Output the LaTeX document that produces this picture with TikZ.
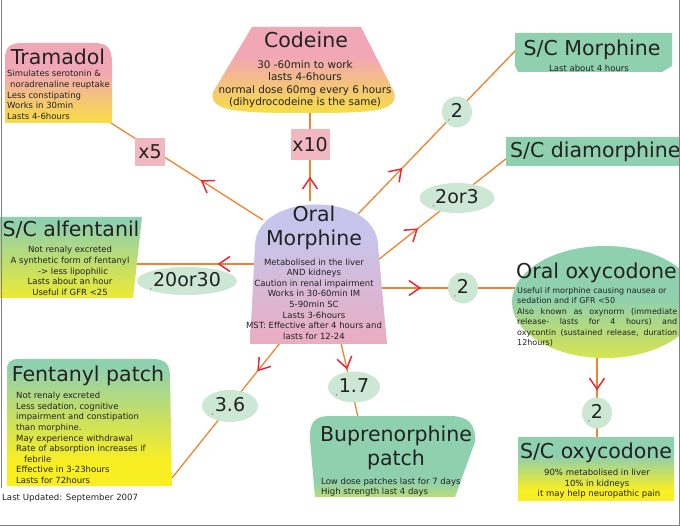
\documentclass[tikz,border=0pt]{standalone}
\usepackage{fontspec}
\setmainfont{DejaVu Sans}
\usepackage{tikz}
\usetikzlibrary{arrows.meta,shapes.geometric,decorations.markings}
\definecolor{ink}{HTML}{222222}
\definecolor{pinkc}{HTML}{F2A7B6}
\definecolor{yellowc}{HTML}{F9EE22}
\definecolor{greenc}{HTML}{8FD0AE}
\definecolor{purplec}{HTML}{C7C5EC}
\definecolor{paleg}{HTML}{CCE8D5}
\definecolor{boxpink}{HTML}{F2B8C1}
\definecolor{linkc}{HTML}{EE8330}
\definecolor{arrowc}{HTML}{E5283C}
\definecolor{framec}{HTML}{808080}
% vertical shadings, bottom (0bp) to top (100bp)
\pgfdeclareverticalshading{pinkyellow}{100bp}{color(0bp)=(yellowc); color(15bp)=(yellowc); color(58bp)=(pinkc); color(100bp)=(pinkc)}
\pgfdeclareverticalshading{morphshade}{100bp}{color(0bp)=(pinkc); color(17bp)=(pinkc); color(61bp)=(purplec); color(100bp)=(purplec)}
\pgfdeclareverticalshading{alfshade}{100bp}{color(0bp)=(yellowc); color(18bp)=(yellowc); color(72bp)=(greenc); color(100bp)=(greenc)}
\pgfdeclareverticalshading{fenshade}{100bp}{color(0bp)=(yellowc); color(35bp)=(yellowc); color(72bp)=(greenc); color(100bp)=(greenc)}
\pgfdeclareverticalshading{oxyshade}{100bp}{color(0bp)=(yellowc); color(12bp)=(yellowc); color(52bp)=(greenc); color(100bp)=(greenc)}
\pgfdeclareverticalshading{bupshade}{100bp}{color(0bp)=(yellowc); color(9bp)=(yellowc); color(35bp)=(greenc); color(100bp)=(greenc)}
\pgfdeclareverticalshading{scoshade}{100bp}{color(0bp)=(yellowc); color(33bp)=(yellowc); color(60bp)=(greenc); color(100bp)=(greenc)}
\pgfdeclareverticalshading{scmshade}{100bp}{color(0bp)=(yellowc); color(4bp)=(yellowc); color(22bp)=(greenc); color(100bp)=(greenc)}
\newcommand{\numtick}{\makebox[0pt][r]{\raisebox{-3pt}{\fontsize{6}{6}\selectfont ,}\hspace{1pt}}}
\tikzset{
  drugname/.style={font=\fontsize{20.5}{24.5}\selectfont, text=ink, inner sep=0pt, align=center},
  infotext/.style={font=\fontsize{8.5}{10.6}\selectfont, text=ink, inner sep=0pt},
  num/.style={ellipse, fill=paleg, inner sep=0pt, font=\fontsize{19}{19}\selectfont, text=ink},
  factor/.style={rectangle, fill=boxpink, inner sep=0pt, font=\fontsize{19}{19}\selectfont, text=ink},
  link/.style={draw=linkc, line width=1.3pt, postaction={decorate},
    decoration={markings, mark=at position #1 with
      {\arrow{Straight Barb[color=arrowc, length=11pt, width=15pt, line width=1.5pt]}}}},
}

\begin{document}
\begin{tikzpicture}[x=1pt,y=-1pt]
  \useasboundingbox (0,0) rectangle (680,526);

  % connector ends
  \coordinate (mor-tl) at (263,220);
  \coordinate (mor-top) at (310,201);
  \coordinate (mor-tr) at (358,214);
  \coordinate (mor-r1) at (378,260);
  \coordinate (mor-r2) at (381,288);
  \coordinate (mor-l) at (256,264);
  \coordinate (mor-bl) at (280,343);
  \coordinate (mor-b) at (341,343);
  \coordinate (tram-in) at (111,123);
  \coordinate (cod-in) at (310,111);
  \coordinate (scm-in) at (516,50);
  \coordinate (dia-in) at (507,158);
  \coordinate (oxy-in) at (515,288);
  \coordinate (oxy-out) at (597,356);
  \coordinate (alf-in) at (136,264);
  \coordinate (fen-in) at (172,478);
  \coordinate (bup-in) at (358,417);
  \coordinate (sco-in) at (597,438);

  \draw[link=0.41] (mor-tl) -- (tram-in);
  \draw[link=0.27] (mor-top) -- (cod-in);
  \draw[link=0.28] (mor-tr) -- (scm-in);
  \draw[link=0.31] (mor-r1) -- (dia-in);
  \draw[link=0.3] (mor-r2) -- (oxy-in);
  \draw[link=0.32] (mor-l) -- (alf-in);
  \draw[link=0.21] (mor-bl) -- (fen-in);
  \draw[link=0.36] (mor-b) -- (bup-in);
  \draw[link=0.42] (oxy-out) -- (sco-in);

  % shapes
  \shade[shading=pinkyellow] (5,123) -- (5,60) .. controls (5,46) and (10,43) .. (24,43)
    -- (93,43) .. controls (108,43) and (112,48) .. (112,64) -- (112,123) -- cycle;
  \shade[shading=pinkyellow] (252,27) -- (361,27) -- (394,92) .. controls (400,112) and (370,113) .. (306,113)
    .. controls (240,113) and (208,112) .. (213,92) -- cycle;
  \shade[shading=scmshade] (515,33) -- (672,33) -- (672,66) -- (662,72) -- (518,72) -- (515,66) -- cycle;
  \fill[greenc] (506,137) rectangle (690,166);
  \shade[shading=alfshade] (-2,217) -- (142,217) -- (133,298) -- (-2,298) -- cycle;
  \shade[shading=morphshade] (250,344) -- (255,245) .. controls (257,191) and (376,191) .. (378,245)
    -- (387,344) -- cycle;
  \shade[shading=oxyshade] (605,302) ellipse[x radius=93, y radius=56];
  \shade[shading=fenshade] (7,486) -- (7,371) .. controls (7,362) and (10,359) .. (19,359) -- (152,359)
    .. controls (166,359) and (170,364) .. (170,378) -- (172,486) -- cycle;
  \shade[shading=bupshade] (315,497) -- (310,440) .. controls (309,422) and (315,416) .. (330,416) -- (450,416)
    .. controls (468,416) and (476,424) .. (475,442) -- (455,497) -- cycle;
  \shade[shading=scoshade] (518,437) rectangle (674,500);

  % texts
  \node[drugname] (tramadol) at (58,57) {Tramadol};
  \node[infotext, anchor=west, align=left] (tramadol-info) at (7,95)
    {Simulates serotonin \&\\\hspace*{3pt}noradrenaline reuptake\\Less constipating\\Works in 30min\\Lasts 4-6hours};
  \node[drugname] (codeine) at (306,40) {Codeine};
  \node[infotext, font=\fontsize{10.4}{12.4}\selectfont, align=center] (codeine-info) at (305,84)
    {30 -60min to work\\lasts 4-6hours\\normal dose 60mg every 6 hours\\(dihydrocodeine is the same)};
  \node[drugname] (scmorphine) at (592,50) {S/C Morphine};
  \node[infotext] (scmorphine-info) at (589,68) {Last about 4 hours};
  \node[drugname, anchor=west] (diamorphine) at (510,152) {S/C diamorphine};
  \node[drugname] (alfentanil) at (71,230) {S/C alfentanil};
  \node[infotext, align=center] (alfentanil-info) at (70,271)
    {Not renaly excreted\\A synthetic form of fentanyl\\\hspace*{6pt}-> less lipophilic\\Lasts about an hour\\Useful if GFR <25};
  \node[drugname] (morphine) at (314,228) {Oral\\Morphine};
  \node[infotext, align=center] (morphine-info) at (314,299)
    {Metabolised in the liver\\AND kidneys\\Caution in renal impairment\\Works in 30-60min IM\\5-90min SC\\Lasts 3-6hours\\MST: Effective after 4 hours and\\lasts for 12-24};
  \node[drugname, anchor=west] (oxycodone) at (516,273) {Oral oxycodone};
  \node[infotext, font=\fontsize{8}{10.4}\selectfont, anchor=west, text width=160pt, align=justify] (oxycodone-info) at (517,317)
    {Useful if morphine causing nausea or\\sedation and if GFR <50\\Also known as oxynorm (immediate\linebreak release- lasts for 4 hours) and\linebreak oxycontin (sustained release, duration\linebreak 12hours)};
  \node[drugname] (fentanyl) at (88,376) {Fentanyl patch};
  \node[infotext, anchor=west, align=left] (fentanyl-info) at (16,438)
    {Not renaly excreted\\Less sedation, cognitive\\impairment and constipation\\than morphine.\\May experience withdrawal\\Rate of absorption increases if\\\hspace*{8pt}febrile\\Effective in 3-23hours\\Lasts for 72hours};
  \node[drugname] (buprenorphine) at (396,448) {Buprenorphine\\patch};
  \node[infotext, anchor=west, align=left] (buprenorphine-info) at (321,487)
    {Low dose patches last for 7 days\\High strength last 4 days};
  \node[drugname] (scoxycodone) at (596,453) {S/C oxycodone};
  \node[infotext, align=center] (scoxycodone-info) at (597,484)
    {90\% metabolised in liver\\10\% in kidneys\\\hspace*{4pt}it may help neuropathic pain};
  \node[infotext, font=\fontsize{8.6}{10}\selectfont, anchor=west] (updated) at (2,498) {Last Updated: September 2007};

  % conversion factors
  \node[factor, minimum width=30pt, minimum height=28pt] (x5) at (150,152) {x5};
  \node[factor, minimum width=39pt, minimum height=31pt] (x10) at (310,145) {x10};
  \node[num, minimum width=30pt, minimum height=31pt] (n-scm) at (457,112) {\numtick2};
  \node[num, minimum width=75pt, minimum height=30pt] (n-dia) at (457,198) {\numtick2or3};
  \node[num, minimum width=30pt, minimum height=31pt] (n-oxy) at (463,288) {\numtick2};
  \node[num, minimum width=100pt, minimum height=28pt] (n-alf) at (187,281) {\numtick20or30};
  \node[num, minimum width=56pt, minimum height=32pt] (n-fen) at (230,406) {\numtick3.6};
  \node[num, minimum width=52pt, minimum height=31pt] (n-bup) at (354,387) {\numtick1.7};
  \node[num, minimum width=30pt, minimum height=31pt] (n-sco) at (597,413) {\numtick2};

  % frame
  \draw[framec, line width=1pt] (1,0) -- (1,488);
  \draw[framec, line width=1pt] (679,0) -- (679,525) -- (0,525);
\end{tikzpicture}
\end{document}
